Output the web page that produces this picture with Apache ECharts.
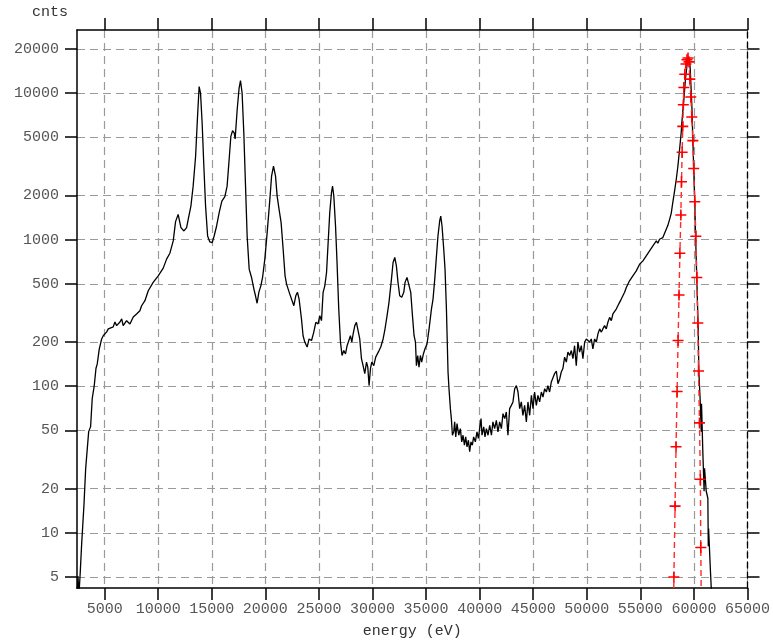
<!DOCTYPE html>
<html>
<head>
<meta charset="utf-8">
<script src="https://cdn.jsdelivr.net/npm/echarts@6/dist/echarts.min.js"></script>
<style>
  html, body { margin: 0; padding: 0; background: #fff; }
  #main { width: 773px; height: 644px; }
</style>
</head>
<body>
<div id="main"></div>
<script>
// tick marks
var xTicks = [5000, 10000, 15000, 20000, 25000, 30000, 35000, 40000, 45000, 50000, 55000, 60000, 65000];
var yTicks = [5, 10, 20, 50, 100, 200, 500, 1000, 2000, 5000, 10000, 20000];

// measured spectrum (energy in eV, counts)
var energy = [
  2420, 2510, 2600, 2720, 2850, 3070, 3230, 3380, 3510, 3690, 3840, 4030, 4190, 4310, 4500, 4720, 4870,
  5190, 5340, 5490, 5800, 5960, 6120, 6430, 6590, 6730, 7050, 7200, 7360, 7670, 7830, 7980, 8290, 8450,
  8760, 9070, 9530, 10000, 10470, 10780, 11090, 11400, 11620, 11860, 12120, 12400, 12650, 12800, 13050,
  13260, 13490, 13670, 13820, 13950, 14100, 14260, 14420, 14610, 14820, 15040, 15220, 15450, 15690, 15940,
  16220, 16430, 16620, 16780, 16940, 17090, 17180, 17370, 17550, 17680, 17830, 17990, 18150, 18300, 18490,
  18710, 18930, 19080, 19230, 19390, 19580, 19740, 19950, 20170, 20420, 20580, 20760, 20950, 21100, 21280,
  21470, 21660, 21840, 21980, 22120, 22280, 22440, 22660, 22840, 23000, 23150, 23370, 23520, 23680, 23900,
  24080, 24310, 24520, 24710, 24920, 25080, 25240, 25390, 25550, 25710, 25860, 26010, 26170, 26270, 26390,
  26550, 26690, 26850, 27010, 27160, 27320, 27480, 27630, 27790, 27940, 28070, 28190, 28350, 28500, 28650,
  28810, 28970, 29120, 29280, 29440, 29560, 29680, 29810, 29930, 30120, 30300, 30460, 30610, 30770, 30990,
  31140, 31360, 31540, 31770, 31920, 32080, 32230, 32380, 32540, 32730, 32920, 33040, 33220, 33380, 33570,
  33730, 33880, 34010, 34100, 34220, 34340, 34470, 34590, 34750, 34900, 35090, 35280, 35500, 35650, 35810,
  35970, 36110, 36270, 36370, 36490, 36650, 36770, 36900, 37050, 37140, 37270, 37360, 37460, 37580, 37670,
  37770, 37890, 38050, 38200, 38330, 38450, 38580, 38700, 38820, 38950, 39070, 39190, 39320, 39440, 39600,
  39750, 39880, 40000, 40130, 40220, 40380, 40500, 40630, 40780, 40940, 41100, 41240, 41400, 41560, 41710,
  41870, 42030, 42180, 42340, 42490, 42640, 42800, 42960, 43110, 43270, 43430, 43580, 43740, 43890, 44040,
  44200, 44360, 44510, 44670, 44830, 44980, 45130, 45290, 45440, 45600, 45760, 45910, 46070, 46230, 46370,
  46530, 46690, 46840, 47000, 47160, 47310, 47470, 47620, 47770, 47930, 48090, 48240, 48400, 48560, 48710,
  48860, 49020, 49170, 49330, 49490, 49640, 49800, 49960, 50110, 50260, 50420, 50570, 50730, 50890, 51040,
  51200, 51360, 51500, 51660, 51820, 51970, 52130, 52290, 52440, 52600, 52750, 52900, 53060, 53220, 53370,
  53530, 53690, 53840, 53990, 54150, 54300, 54460, 54620, 54770, 54930, 55090, 55240, 55390, 55550, 55700,
  55860, 56020, 56170, 56330, 56490, 56630, 56790, 56950, 57100, 57260, 57570, 57730, 57880, 58030, 58190,
  58350, 58500, 58660, 58820, 58870, 59060, 59220, 59380, 59500, 59590, 59660, 59810, 59900, 59990, 60090,
  60150, 60270, 60400, 60460, 60590, 60680, 60710, 60830, 60920, 60950, 60990, 61150, 61300, 61340, 61370,
  61550, 61640
];
var counts = [
  3.6, 5.07, 3.76, 5.31, 8.27, 15.5, 27.5, 27.5, 49, 53, 82.2, 101, 132, 142, 180, 210, 221,
  235, 246, 239, 254, 274, 259, 274, 288, 259, 280, 274, 266, 297, 303, 311, 327, 354,
  383, 448, 511, 566, 639, 736, 808, 980, 1327, 1487, 1208, 1146, 1208, 1376, 1694,
  2317, 3706, 6931, 11084, 9995, 6250, 3169, 1694, 1059, 964, 955, 1059, 1239, 1528, 1832,
  1963, 2317, 3519, 5068, 5540, 5345, 4865, 7696, 10810, 12175, 9995, 5345, 2317, 1059, 629,
  552, 460, 414, 368, 437, 484, 552, 736, 1117, 1882, 2710, 3169, 2710, 1981, 1609,
  1307, 860, 566, 497, 484, 425, 414, 354, 414, 437, 393, 288, 221, 200, 185,
  210, 205, 234, 273, 266, 303, 280, 437, 484, 597, 955, 1528, 2089, 2317, 1981,
  1239, 698, 336, 200, 162, 175, 166, 189, 185, 221, 200, 227, 259, 273, 273,
  210, 154, 138, 122, 146, 135, 101, 132, 146, 138, 158, 154, 175, 185, 210,
  239, 303, 373, 538, 698, 756, 662, 511, 414, 404, 437, 511, 552, 538, 437,
  303, 221, 200, 138, 162, 135, 162, 146, 166, 180, 194, 246, 336, 393, 538,
  775, 1059, 1340, 1449, 1239, 860, 629, 336, 125, 96.1, 70.3, 60.1, 46.3, 48.8, 57.1,
  45.1, 55.6, 46.3, 51.4, 41.7, 46.3, 39.6, 45.1, 38.6, 42.8, 35.7, 41.7, 39.6, 45.1, 41.7,
  48.8, 44, 51.4, 60.1, 46.3, 52.8, 45.1, 51.4, 46.3, 54.1, 46.3, 57.1, 51.4, 58.5, 48.8,
  57.1, 51.4, 65, 60.1, 66.7, 46.3, 70.3, 74, 78.1, 96.1, 101, 91.3, 70.3, 78.1, 63.3,
  74, 57.1, 78.1, 63.3, 86.6, 70.3, 91.3, 74, 86.6, 78.1, 91.3, 84.4, 96.1, 91.3, 101,
  91.3, 107, 106, 122, 127, 104, 112, 125, 132, 158, 146, 171, 162, 175, 154,
  189, 138, 200, 171, 189, 154, 200, 210, 216, 200, 210, 180, 210, 200, 227,
  246, 234, 246, 259, 246, 273, 295, 280, 311, 319, 336, 354, 373, 393, 404,
  437, 472, 460, 524, 538, 566, 552, 612, 629, 680, 662, 716, 736, 775, 783,
  838, 860, 906, 930, 980, 945, 1006, 995, 1033, 1059, 1252, 1376, 1511, 1795, 2133,
  2573, 3154, 4117, 5455, 6279, 9001, 12700, 16060, 17640, 16840, 14394, 8102, 4813, 2871, 1694,
  1088, 538, 246, 125, 78.4, 49, 76, 35.9, 35.9, 19.2, 27.5, 19.2, 17.2, 8.1, 10.7,
  5.31, 3.88
];

// gaussian fit points
var fitEnergy = [
  58050, 58130, 58240, 58330, 58430, 58520, 58610, 58690, 58780, 58840, 58900, 58960, 59010, 59060,
  59150, 59260, 59350, 59450, 59540, 59620, 59710, 59800, 59900, 59980, 60080, 60180, 60270, 60360,
  60430, 60520, 60600, 60640, 60710
];
var fitCounts = [
  1.4, 4.99, 15.2, 38.6, 92.1, 205, 419, 808, 1471, 2482, 3945, 5926, 8325, 10910,
  13460, 15810, 16900, 17370, 16320, 12450, 9389, 6865, 4738, 3057, 1815, 1054, 552, 270,
  127, 56.2, 23.2, 7.94, 2.25
];

var mono = '"Liberation Mono", "DejaVu Sans Mono", monospace';
var chart = echarts.init(document.getElementById('main'));

var axisLine = { show: true, onZero: false, lineStyle: { color: '#000', width: 1.5 } };
var gridLine = { show: true, lineStyle: { color: '#9a9a9a', width: 1.2, type: [8, 5] } };
var plain = function (v) { return String(Math.round(v)); };

chart.setOption({
  animation: false,
  backgroundColor: '#fff',
  grid: { left: 77, right: 25, top: 30, bottom: 54 },
  xAxis: [
    {
      type: 'value', position: 'bottom', min: 2420, max: 65000,
      name: 'energy (eV)', nameLocation: 'middle', nameGap: 36,
      nameTextStyle: { fontFamily: mono, fontSize: 15, color: '#333' },
      axisLine: axisLine,
      axisTick: { length: 12, customValues: xTicks, lineStyle: { color: '#000', width: 1.5 } },
      axisLabel: { customValues: xTicks, margin: 14, fontFamily: mono, fontSize: 15, color: '#555', formatter: plain },
      splitLine: gridLine
    },
    {
      type: 'value', position: 'top', min: 2420, max: 65000,
      axisLine: axisLine,
      axisTick: { length: 12, customValues: xTicks, lineStyle: { color: '#000', width: 1.5 } },
      axisLabel: { show: false },
      splitLine: { show: false }
    }
  ],
  yAxis: [
    {
      type: 'log', logBase: 10, position: 'left', min: 4.2, max: 26930,
      name: 'cnts', nameLocation: 'end', nameGap: 10,
      nameTextStyle: { fontFamily: mono, fontSize: 15, color: '#333', align: 'right', padding: [0, 9, 0, 0] },
      axisLine: axisLine,
      axisTick: { length: 12, customValues: yTicks, lineStyle: { color: '#000', width: 1.5 } },
      axisLabel: { customValues: yTicks, margin: 18, fontFamily: mono, fontSize: 15, color: '#555', formatter: plain },
      minorTick: { show: false },
      splitLine: gridLine
    },
    {
      type: 'log', logBase: 10, position: 'right', min: 4.2, max: 26930,
      axisLine: { show: true, onZero: false, lineStyle: { color: '#000', width: 1.3, type: [6, 4] } },
      axisTick: { length: 12, customValues: yTicks, lineStyle: { color: '#000', width: 1.5 } },
      axisLabel: { show: false },
      splitLine: { show: false }
    }
  ],
  series: [
    {
      name: 'spectrum', type: 'line', xAxisIndex: 0, yAxisIndex: 0,
      data: energy.map(function (e, i) { return [e, counts[i]]; }),
      symbol: 'none', clip: true,
      lineStyle: { color: '#000', width: 1.3 },
      z: 3
    },
    {
      name: 'fit', type: 'line', xAxisIndex: 0, yAxisIndex: 0,
      data: fitEnergy.map(function (e, i) { return [e, fitCounts[i]]; }),
      symbol: 'path://M0,4.3H4.3V0H5.7V4.3H10V5.7H5.7V10H4.3V5.7H0Z',
      symbolSize: 11, clip: true,
      itemStyle: { color: '#ff0000' },
      lineStyle: { color: '#ff2a2a', width: 1.4, type: [6, 4] },
      z: 4
    }
  ]
});
</script>
</body>
</html>
